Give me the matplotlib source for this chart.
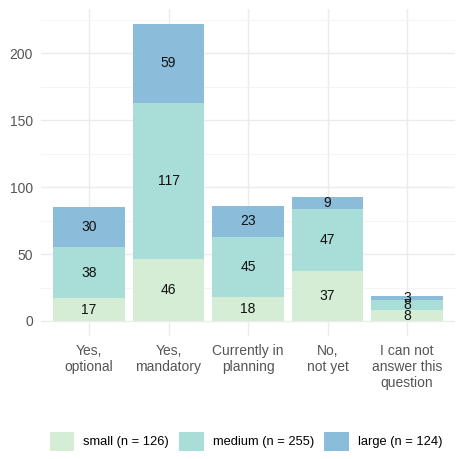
import matplotlib.pyplot as plt
import numpy as np

plt.rcParams['font.family'] = ['Liberation Sans', 'DejaVu Sans']

categories = ["Yes,\noptional", "Yes,\nmandatory", "Currently in\nplanning",
              "No,\nnot yet", "I can not\nanswer this\nquestion"]
small = [17, 46, 18, 37, 8]
medium = [38, 117, 45, 47, 8]
large = [30, 59, 23, 9, 3]
series_labels = ["small (n = 126)", "medium (n = 255)", "large (n = 124)"]
colors = ["#d4edd4", "#a9ddd7", "#8bbcda"]

fig = plt.figure(figsize=(4.6, 4.59), dpi=100)
ax = fig.add_axes([0.0898, 0.2686, 0.8987, 0.7114])

x = np.arange(1, len(categories) + 1)
bottom = np.zeros(len(categories))
for vals, lab, col in zip([small, medium, large], series_labels, colors):
    vals = np.array(vals)
    ax.bar(x, vals, 0.9, bottom=bottom, color=col, label=lab, zorder=2)
    for xi, b, v in zip(x, bottom, vals):
        ax.text(xi, b + v / 2, str(v), ha="center", va="center",
                fontsize=10, color="#111111", zorder=3)
    bottom += vals

ax.set_xlim(0.4, 5.6)
ax.set_ylim(-11, 233)
ax.set_yticks([0, 50, 100, 150, 200])
ax.set_yticks([25, 75, 125, 175, 225], minor=True)
ax.set_xticks(x)
ax.set_xticklabels(categories)
ax.grid(True, which="major", color="#ebebeb", linewidth=1.0, zorder=0)
ax.grid(True, which="minor", axis="y", color="#f3f3f3", linewidth=0.6, zorder=0)
ax.tick_params(which="both", length=0, labelsize=10, labelcolor="#555555")
ax.tick_params(axis="x", pad=6)
ax.tick_params(axis="y", pad=6)
for s in ax.spines.values():
    s.set_visible(False)

fig.legend(loc="center", bbox_to_anchor=(0.535, 0.039), ncol=3, frameon=False,
           fontsize=9.3, handlelength=1.9, handleheight=1.9, columnspacing=0.8,
           handletextpad=0.7)

fig.savefig("out.png", dpi=100)
